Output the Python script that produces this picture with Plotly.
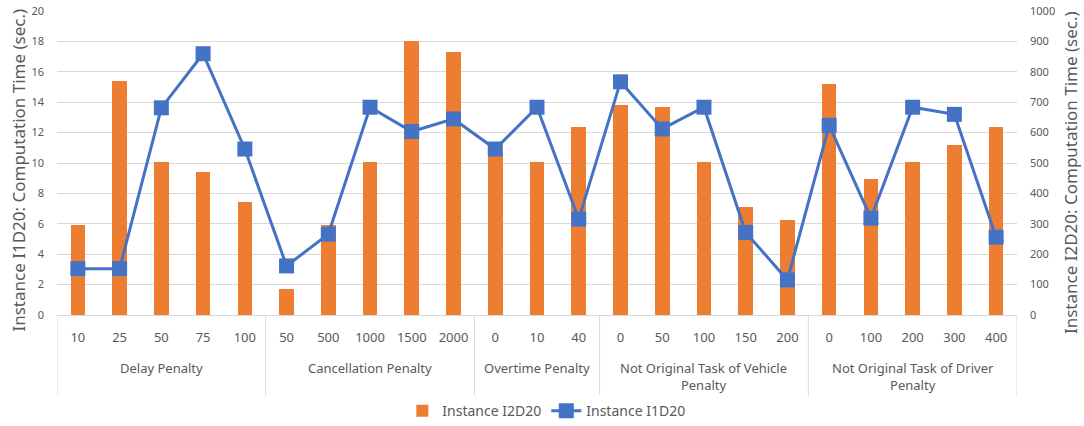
import plotly.graph_objects as go

# Penalty groups and their parameter values along the category axis
groups = ["Delay Penalty", "Cancellation Penalty", "Overtime Penalty",
          "Not Original Task of Vehicle<br>Penalty", "Not Original Task of Driver<br>Penalty"]
group_values = [
    ["10", "25", "50", "75", "100"],
    ["50", "500", "1000", "1500", "2000"],
    ["0", "10", "40"],
    ["0", "50", "100", "150", "200"],
    ["0", "100", "200", "300", "400"],
]

# Computation times (sec.)
i2d20 = [297, 770, 503, 471, 371,
         84, 297, 503, 902, 865,
         540, 503, 619,
         691, 684, 503, 355, 313,
         761, 447, 503, 559, 619]
i1d20 = [3.05, 3.05, 13.63, 17.19, 10.92,
         3.23, 5.32, 13.67, 12.07, 12.9,
         10.92, 13.67, 6.31,
         15.34, 12.24, 13.67, 5.43, 2.31,
         12.48, 6.37, 13.67, 13.2, 5.12]

tick_labels = [v for vals in group_values for v in vals]
xs = list(range(len(tick_labels)))

FONT = "'Noto Sans', 'Open Sans', sans-serif"
GRAY = "#595959"
LINE = "#D9D9D9"

fig = go.Figure()
fig.add_trace(go.Bar(
    x=xs, y=i2d20, name="Instance I2D20", yaxis="y",
    marker=dict(color="#ED7D31", line=dict(width=0)), width=0.35,
))
fig.add_trace(go.Scatter(
    x=xs, y=i1d20, name="Instance I1D20", yaxis="y2", mode="lines+markers",
    line=dict(color="#4472C4", width=3),
    marker=dict(symbol="square", size=15, color="#4472C4"),
))

# group labels and dividers below the category axis
shapes = []
annotations = []
start = 0
bounds = [-0.5]
for g, vals in zip(groups, group_values):
    end = start + len(vals)
    annotations.append(dict(
        x=(start + end - 1) / 2, xref="x", y=-0.138, yref="paper",
        text=g, showarrow=False, yanchor="top", xanchor="center",
        font=dict(family=FONT, size=13, color=GRAY),
    ))
    bounds.append(end - 0.5)
    start = end
for b in bounds:
    shapes.append(dict(type="line", xref="x", yref="paper", x0=b, x1=b,
                       y0=0, y1=-0.266, line=dict(color=LINE, width=1)))

# axis titles
annotations.append(dict(
    x=-0.040, xref="paper", xanchor="center", y=0.477, yref="paper", yanchor="middle",
    text="Instance I1D20: Computation Time (sec.)", textangle=-90, showarrow=False,
    font=dict(family=FONT, size=17, color=GRAY),
))
annotations.append(dict(
    x=1.0552, xref="paper", xanchor="center", y=0.47, yref="paper", yanchor="middle",
    text="Instance I2D20: Computation Time (sec.)", textangle=-90, showarrow=False,
    font=dict(family=FONT, size=17, color=GRAY),
))

fig.update_layout(
    width=1084, height=426,
    margin=dict(l=57, r=67, t=11, b=111, autoexpand=False),
    paper_bgcolor="white", plot_bgcolor="white",
    font=dict(family=FONT, color=GRAY),
    bargap=0,
    showlegend=True,
    legend=dict(orientation="h", xref="container", yref="container",
                x=0.504, xanchor="center", y=0.035, yanchor="middle",
                font=dict(family=FONT, size=14, color=GRAY), traceorder="normal"),
    xaxis=dict(
        range=[-0.5, len(xs) - 0.5], tickmode="array", tickvals=xs, ticktext=tick_labels,
        showgrid=False, showline=True, linecolor=LINE, linewidth=1, zeroline=False,
        ticks="", ticklabelstandoff=10, automargin=False,
        tickfont=dict(family=FONT, size=13, color=GRAY),
    ),
    yaxis=dict(
        range=[0, 1000], dtick=100, side="right", automargin=False,
        showgrid=True, gridcolor=LINE, gridwidth=1, zeroline=False, showline=False,
        ticks="", ticklabelstandoff=12,
        tickfont=dict(family=FONT, size=11, color=GRAY),
    ),
    yaxis2=dict(
        range=[0, 20], dtick=2, side="left", overlaying="y", automargin=False,
        showgrid=False, zeroline=False, showline=False,
        ticks="", ticklabelstandoff=12,
        tickfont=dict(family=FONT, size=11, color=GRAY),
    ),
    shapes=shapes,
    annotations=annotations,
)

fig.write_html("out.html")
